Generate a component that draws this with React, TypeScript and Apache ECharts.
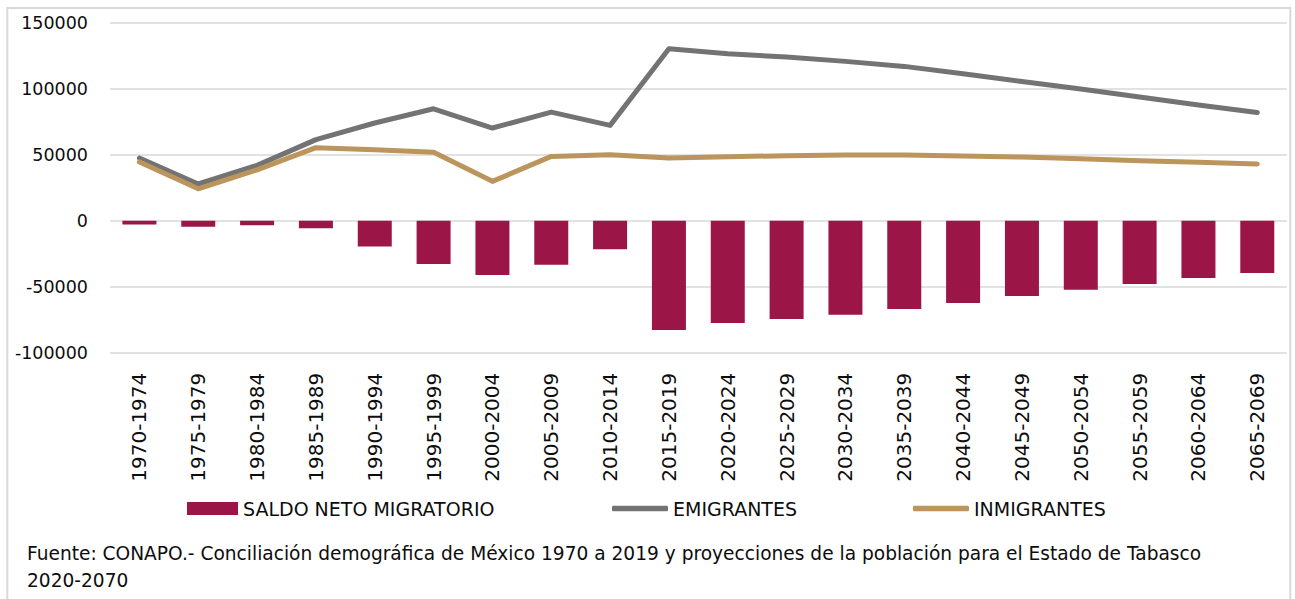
import React, { useEffect, useRef } from "react";
import * as echarts from "echarts";

const categories = [
  "1970-1974", "1975-1979", "1980-1984", "1985-1989", "1990-1994",
  "1995-1999", "2000-2004", "2005-2009", "2010-2014", "2015-2019",
  "2020-2024", "2025-2029", "2030-2034", "2035-2039", "2040-2044",
  "2045-2049", "2050-2054", "2055-2059", "2060-2064", "2065-2069",
];

const saldoNeto = [
  -2800, -4500, -3500, -5800, -19500, -32800, -41100, -33300, -21700, -82800,
  -77500, -74500, -71200, -66900, -62400, -57000, -52300, -48000, -43400, -39600,
];

const emigrantes = [
  47500, 27800, 41900, 61400, 74000, 84800, 70200, 82300, 72200, 130300,
  126500, 124000, 120700, 116900, 111400, 105500, 99800, 93700, 87700, 82000,
];

const inmigrantes = [
  44500, 24200, 38500, 55300, 53800, 51800, 29800, 48700, 50000, 47500,
  48500, 49200, 49700, 49700, 49000, 48200, 47000, 45500, 44200, 43000,
];

const yTicks = { min: -100000, max: 150000, interval: 50000 };

const seriesNames = ["SALDO NETO MIGRATORIO", "EMIGRANTES", "INMIGRANTES"];

const footerLines = [
  "Fuente: CONAPO.- Conciliación demográfica de México 1970 a 2019 y proyecciones de la población para el Estado de Tabasco",
  "2020-2070",
];

const FONT = "DejaVu Sans";
const TEXT = "#0d0d0d";
const GRID = "#d9d9d9";
const C_BAR = "#9b1547";
const C_EMI = "#737373";
const C_INM = "#bc955c";

export default function App() {
  const ref = useRef<HTMLDivElement>(null);

  useEffect(() => {
    if (!ref.current) return;
    const chart = echarts.init(ref.current, undefined, { renderer: "svg" });
    const legendBase = {
      orient: "horizontal",
      top: 499,
      padding: 0,
      textStyle: { fontFamily: FONT, fontSize: 19, color: TEXT },
      selectedMode: false,
    };
    chart.setOption({
      animation: false,
      backgroundColor: "#ffffff",
      grid: { left: 110, top: 22.7, width: 1176.7, height: 330, containLabel: false },
      legend: [
        { ...legendBase, left: 187, itemWidth: 51, itemHeight: 13, icon: "rect", data: [seriesNames[0]] },
        { ...legendBase, left: 612, itemWidth: 56, itemHeight: 5.5, icon: "roundRect", data: [seriesNames[1]] },
        { ...legendBase, left: 913, itemWidth: 56, itemHeight: 5.5, icon: "roundRect", data: [seriesNames[2]] },
      ],
      xAxis: {
        type: "category",
        data: categories,
        boundaryGap: true,
        axisLine: { show: false },
        axisTick: { show: false },
        axisLabel: {
          interval: 0,
          rotate: 90,
          margin: 20,
          fontFamily: FONT,
          fontSize: 20,
          color: TEXT,
        },
      },
      yAxis: {
        type: "value",
        min: yTicks.min,
        max: yTicks.max,
        interval: yTicks.interval,
        axisLine: { show: false },
        axisTick: { show: false },
        splitLine: { lineStyle: { color: GRID, width: 1.5 } },
        axisLabel: {
          margin: 22,
          fontFamily: FONT,
          fontSize: 17.5,
          color: TEXT,
          formatter: (v: number) => String(v),
        },
      },
      series: [
        {
          name: seriesNames[0],
          type: "bar",
          data: saldoNeto,
          barWidth: 34,
          itemStyle: { color: C_BAR },
        },
        {
          name: seriesNames[1],
          type: "line",
          data: emigrantes,
          symbol: "none",
          lineStyle: { color: C_EMI, width: 5, cap: "round", join: "round" },
          itemStyle: { color: C_EMI },
        },
        {
          name: seriesNames[2],
          type: "line",
          data: inmigrantes,
          symbol: "none",
          lineStyle: { color: C_INM, width: 5, cap: "round", join: "round" },
          itemStyle: { color: C_INM },
        },
      ],
      graphic: [
        {
          type: "rect",
          silent: true,
          shape: { x: 7.3, y: 8, width: 1283, height: 620 },
          style: { fill: "none", stroke: GRID, lineWidth: 2 },
        },
        {
          type: "text",
          x: 27,
          y: 553,
          style: {
            text: footerLines[0],
            fontFamily: FONT,
            fontSize: 18.6,
            fill: TEXT,
            textVerticalAlign: "middle",
          },
        },
        {
          type: "text",
          x: 27,
          y: 580.5,
          style: {
            text: footerLines[1],
            fontFamily: FONT,
            fontSize: 18.6,
            fill: TEXT,
            textVerticalAlign: "middle",
          },
        },
      ],
    });
    return () => chart.dispose();
  }, []);

  return (
    <div
      ref={ref}
      style={{ position: "fixed", left: 0, top: 0, width: 1295, height: 599 }}
    />
  );
}
